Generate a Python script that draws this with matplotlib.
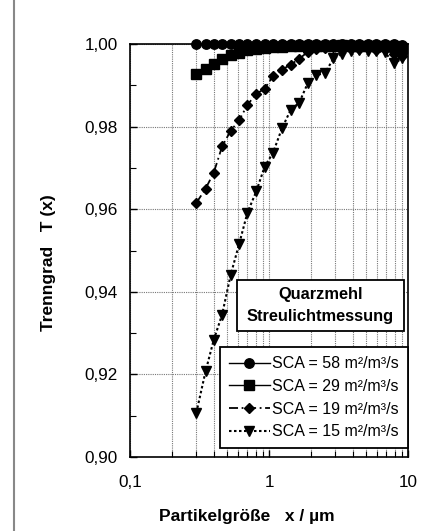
import matplotlib
matplotlib.use("Agg")
import matplotlib.pyplot as plt
from matplotlib.ticker import FixedLocator, FixedFormatter, NullFormatter
from matplotlib.patches import Rectangle
from matplotlib.lines import Line2D

plt.rcParams['font.family'] = ['Liberation Sans', 'DejaVu Sans']

# particle size channels (µm)
x = [0.30, 0.35, 0.40, 0.46, 0.53, 0.61, 0.70, 0.81, 0.93, 1.07, 1.24, 1.43, 1.65,
     1.90, 2.19, 2.52, 2.91, 3.36, 3.87, 4.46, 5.14, 5.93, 6.84, 7.89, 9.10]

t_58 = [1.0000, 1.0000, 1.0000, 1.0000, 1.0000, 1.0000, 1.0000, 1.0000, 1.0000,
        1.0000, 1.0000, 1.0000, 1.0000, 1.0000, 1.0000, 1.0000, 1.0000, 1.0000,
        1.0000, 0.9999, 1.0000, 0.9999, 0.9999, 1.0000, 0.9998]
t_29 = [0.9927, 0.9940, 0.9952, 0.9964, 0.9973, 0.9978, 0.9985, 0.9988, 0.9990,
        0.9992, 0.9993, 0.9994, 0.9995, 0.9995, 0.9996, 0.9996, 0.9996, 0.9997,
        0.9996, 0.9996, 0.9995, 0.9995, 0.9994, 0.9996, 0.9990]
t_19 = [0.9615, 0.9650, 0.9688, 0.9752, 0.9790, 0.9815, 0.9853, 0.9879, 0.9892,
        0.9922, 0.9938, 0.9950, 0.9964, 0.9981, 0.9988, 0.9990, 0.9992, 0.9993,
        0.9990, 0.9988, 0.9990, 0.9985, 0.9988, 0.9975, 0.9970]
t_15 = [0.9107, 0.9208, 0.9283, 0.9345, 0.9441, 0.9516, 0.9592, 0.9643, 0.9703,
        0.9737, 0.9796, 0.9840, 0.9858, 0.9905, 0.9925, 0.9929, 0.9965, 0.9976,
        0.9982, 0.9985, 0.9984, 0.9982, 0.9980, 0.9953, 0.9965]

labels = ["SCA = 58 m²/m³/s", "SCA = 29 m²/m³/s",
          "SCA = 19 m²/m³/s", "SCA = 15 m²/m³/s"]

y_ticks = [0.90, 0.92, 0.94, 0.96, 0.98, 1.00]
y_ticklabels = ["0,90", "0,92", "0,94", "0,96", "0,98", "1,00"]
x_ticks = [0.1, 1, 10]
x_ticklabels = ["0,1", "1", "10"]

fig = plt.figure(figsize=(4.22, 5.31), dpi=100)
ax = fig.add_axes([130/422, 1-457/531, 278/422, 413/531])

ax.set_xscale('log')
ax.set_xlim(0.1, 10)
ax.set_ylim(0.90, 1.00)

st_58 = dict(color='black', lw=1.0, ls='-', marker='o', ms=6.8)
st_29 = dict(color='black', lw=1.0, ls='-', marker='s', ms=7.2)
st_19 = dict(color='black', lw=1.3, ls=(0, (5, 2, 1, 2)), marker='D', ms=5.5)
st_15 = dict(color='black', lw=1.5, ls=(0, (1.2, 1.2)), marker='v', ms=7.2)

ax.plot(x, t_58, zorder=5, clip_on=False, **st_58)
ax.plot(x, t_29, zorder=5, clip_on=False, **st_29)
ax.plot(x, t_19, zorder=5, clip_on=False, **st_19)
ax.plot(x, t_15, zorder=5, clip_on=False, **st_15)

# axes ticks
ax.yaxis.set_major_locator(FixedLocator(y_ticks))
ax.yaxis.set_major_formatter(FixedFormatter(y_ticklabels))
ax.yaxis.set_minor_locator(FixedLocator([0.91, 0.93, 0.95, 0.97, 0.99]))
ax.xaxis.set_major_locator(FixedLocator(x_ticks))
ax.xaxis.set_major_formatter(FixedFormatter(x_ticklabels))
minor_x = [m * d for d in (0.1, 1) for m in range(2, 10)]
ax.xaxis.set_minor_locator(FixedLocator(minor_x))
ax.xaxis.set_minor_formatter(NullFormatter())

ax.tick_params(axis='both', which='both', direction='in', color='black')
ax.tick_params(axis='both', which='major', length=5, width=1)
ax.tick_params(axis='both', which='minor', length=4, width=0.8)
ax.tick_params(axis='y', which='major', labelsize=12.3, pad=9)
ax.tick_params(axis='x', which='major', labelsize=12.3, pad=13)

ax.grid(True, axis='y', which='major', ls=(0, (1, 1)), color='#777777', lw=0.8)
ax.grid(True, axis='x', which='both', ls=(0, (1, 1)), color='#777777', lw=0.8)

for s in ax.spines.values():
    s.set_linewidth(1.2)
    s.set_color('black')

ax.set_ylabel("Trenngrad   T (x)", fontsize=12.5, fontweight='bold')
ax.yaxis.set_label_coords(-0.265, 0.47)
ax.set_xlabel("Partikelgröße   x / µm", fontsize=12.5, fontweight='bold')
ax.xaxis.set_label_coords(0.42, -0.125)

# title box
x0, x1 = (237-130)/278, (404-130)/278
y0, y1 = (457-331)/413, (457-280)/413
ax.add_patch(Rectangle((x0, y0), x1-x0, y1-y0, transform=ax.transAxes,
                       facecolor='white', edgecolor='black', lw=1.3, zorder=8))
ax.text((x0+x1)/2, (457-295)/413, "Quarzmehl", transform=ax.transAxes,
        ha='center', va='center', fontsize=11.8, fontweight='bold', zorder=9)
ax.text((x0+x1)/2, (457-317)/413, "Streulichtmessung", transform=ax.transAxes,
        ha='center', va='center', fontsize=11.8, fontweight='bold', zorder=9)

handles = [Line2D([], [], **st_58), Line2D([], [], **st_29),
           Line2D([], [], **st_19), Line2D([], [], **st_15)]
leg = ax.legend(handles, labels, loc='lower right',
                bbox_to_anchor=(1.0, (457-448)/413), fontsize=11.5,
                frameon=True, fancybox=False, framealpha=1, edgecolor='black',
                handlelength=2.6, handletextpad=0.15, borderpad=0.55,
                labelspacing=0.48, borderaxespad=0.0)
leg.get_frame().set_linewidth(1.3)
leg.set_zorder(10)

# figure frame line on the left
fig.add_artist(Line2D([14/422, 14/422], [0, 1], transform=fig.transFigure,
                      color='#888888', lw=1.5))

fig.savefig("out.png", dpi=100)
